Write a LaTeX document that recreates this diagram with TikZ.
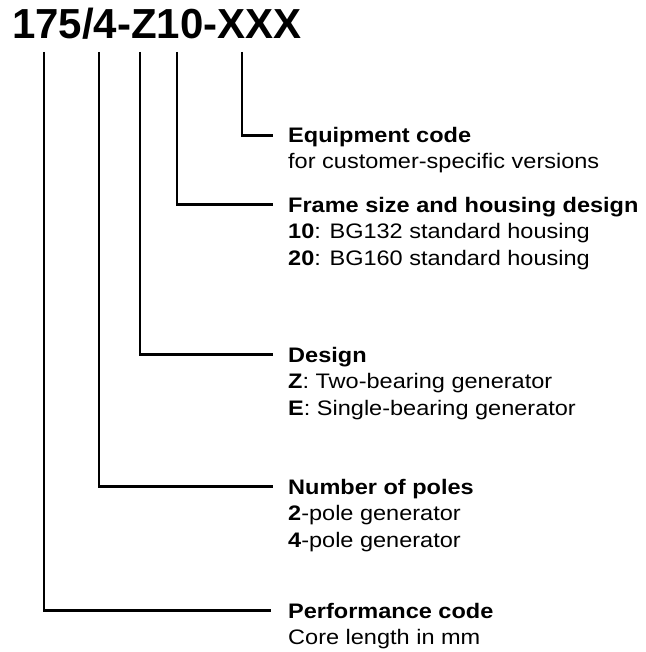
\documentclass[tikz,border=0pt]{standalone}
\usepackage{fontspec}
\setmainfont{Liberation Sans}[FakeStretch=1.12]
\newfontfamily\codefont{Liberation Sans}
\usetikzlibrary{positioning}
\tikzset{
  typecode/.style={font=\codefont\fontsize{42}{50}\selectfont\bfseries, inner sep=0pt, anchor=base west},
  head/.style={font=\fontsize{21}{26}\selectfont\bfseries, inner sep=0pt, anchor=base west, text height=15pt, text depth=0pt},
  detail/.style={font=\fontsize{21}{26}\selectfont, inner sep=0pt, anchor=base west},
  leader/.style={line width=2.6pt}
}

\begin{document}
\begin{tikzpicture}[x=1pt, y=-1pt]
\useasboundingbox (0,0) rectangle (645,652);

% Type code
\node[typecode] (code) at (12,39) {175/4-Z10-XXX};

% Tap points under the code
\coordinate (perfTop) at (44,52);
\coordinate (polesTop) at (99,52);
\coordinate (designTop) at (140,52);
\coordinate (frameTop) at (177,52);
\coordinate (equipTop) at (242,52);

% Equipment code
\node[head] (equip) at (288,143) {Equipment code};
\node[detail] (equipA) at (288,169) {for customer-specific versions};

% Frame size
\node[head] (frame) at (288,212) {Frame size and housing design};
\node[detail] (frameA) at (288,238) {{\bfseries 10}: BG132 standard housing};
\node[detail] (frameB) at (288,265) {{\bfseries 20}: BG160 standard housing};

% Design
\node[head] (design) at (288,362) {Design};
\node[detail] (designA) at (288,388) {{\bfseries Z}: Two-bearing generator};
\node[detail] (designB) at (288,415) {{\bfseries E}: Single-bearing generator};

% Number of poles
\node[head] (poles) at (288,494) {Number of poles};
\node[detail] (polesA) at (288,520) {{\bfseries 2}-pole generator};
\node[detail] (polesB) at (288,547) {{\bfseries 4}-pole generator};

% Performance code
\node[head] (perf) at (288,618) {Performance code};
\node[detail] (perfA) at (288,644) {Core length in mm};

% Leaders
\draw[leader] (equipTop) |- ([xshift=-15pt]equip.west);
\draw[leader] (frameTop) |- ([xshift=-15pt]frame.west);
\draw[leader] (designTop) |- ([xshift=-15pt]design.west);
\draw[leader] (polesTop) |- ([xshift=-15pt]poles.west);
\draw[leader] (perfTop) |- ([xshift=-17pt]perf.west);
\end{tikzpicture}
\end{document}
